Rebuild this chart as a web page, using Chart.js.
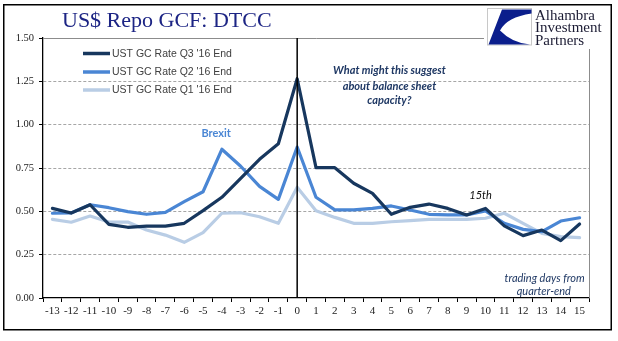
<!DOCTYPE html>
<html>
<head>
<meta charset="utf-8">
<script src="https://cdn.jsdelivr.net/npm/chart.js@4/dist/chart.umd.min.js"></script>
<style>
  html, body { margin: 0; padding: 0; background: #fff; }
  #c { display: block; }
</style>
</head>
<body>
<canvas id="c" width="618" height="341"></canvas>
<script>
// Trading days relative to quarter-end
const days = ['-13','-12','-11','-10','-9','-8','-7','-6','-5','-4','-3','-2','-1','0',
              '1','2','3','4','5','6','7','8','9','10','11','12','13','14','15'];

// UST GC repo rates (%) around each quarter-end
const q3End = [0.517,0.490,0.538,0.425,0.408,0.415,0.415,0.431,0.504,0.581,0.690,0.800,0.890,1.265,
               0.752,0.752,0.662,0.604,0.483,0.523,0.542,0.517,0.479,0.517,0.416,0.360,0.392,0.331,0.427];
const q2End = [0.489,0.491,0.538,0.521,0.498,0.483,0.494,0.556,0.613,0.858,0.760,0.644,0.569,0.871,
               0.581,0.508,0.508,0.517,0.531,0.508,0.483,0.479,0.479,0.502,0.431,0.396,0.383,0.444,0.463];
const q1End = [0.454,0.437,0.473,0.438,0.438,0.392,0.363,0.321,0.377,0.489,0.492,0.469,0.431,0.639,
               0.504,0.465,0.431,0.431,0.440,0.446,0.454,0.454,0.454,0.460,0.489,0.431,0.373,0.354,0.348];

const yTicks = [0, 0.25, 0.5, 0.75, 1.0, 1.25, 1.5];

const seriesNames = ["UST GC Rate Q3 '16 End", "UST GC Rate Q2 '16 End", "UST GC Rate Q1 '16 End"];
const seriesColors = ['#17375e', '#4a86d4', '#b9cde5'];

const zeroIdx = days.indexOf('0');

// Page furniture: frame, plot border, logo, title, legend and notes
const decor = {
  id: 'decor',
  beforeDraw(chart) {
    const ctx = chart.ctx;
    ctx.save();
    ctx.fillStyle = '#fff';
    ctx.fillRect(0, 0, chart.width, chart.height);
    ctx.restore();
  },
  beforeDatasetsDraw(chart) {
    const ctx = chart.ctx, a = chart.chartArea;
    ctx.save();
    ctx.strokeStyle = '#8c8c8c';
    ctx.lineWidth = 1;
    ctx.beginPath();
    ctx.moveTo(a.left, a.top + 0.5);
    ctx.lineTo(a.right + 0.5, a.top + 0.5);
    ctx.lineTo(a.right + 0.5, a.bottom);
    ctx.stroke();
    ctx.restore();
  },
  afterDraw(chart) {
    const ctx = chart.ctx, a = chart.chartArea;
    const xs = chart.scales.x, ys = chart.scales.y;
    const px = d => xs.getPixelForValue(zeroIdx + d);
    const py = v => ys.getPixelForValue(v);
    ctx.save();

    // logo block
    ctx.fillStyle = '#fff';
    ctx.fillRect(484, 6, 125, 43);
    ctx.strokeStyle = '#c8c8c8';
    ctx.lineWidth = 1;
    ctx.strokeRect(487.5, 8.5, 44, 36.5);
    ctx.fillStyle = '#0b1e8c';
    ctx.beginPath();
    ctx.moveTo(502, 9.5);
    ctx.lineTo(531.5, 9.5);
    ctx.lineTo(531.5, 13.5);
    ctx.quadraticCurveTo(507, 17, 500, 30.5);
    ctx.quadraticCurveTo(512, 43, 530, 44.5);
    ctx.lineTo(488.5, 44.5);
    ctx.closePath();
    ctx.fill();
    ctx.fillStyle = '#1b1b33';
    ctx.font = '15px "Liberation Serif"';
    ctx.textAlign = 'left';
    ctx.textBaseline = 'alphabetic';
    ctx.fillText('Alhambra', 535, 19.5);
    ctx.fillText('Investment', 535, 32);
    ctx.fillText('Partners', 535, 44.5);

    // outer frame
    ctx.strokeStyle = '#000';
    ctx.lineWidth = 1.5;
    ctx.strokeRect(3.75, 4.75, 607.5, 325);

    // title
    ctx.fillStyle = '#1c2484';
    ctx.font = '22px "Liberation Serif"';
    ctx.fillText('US$ Repo GCF: DTCC', 62, 27);

    // legend
    ctx.font = '10.5px "Liberation Sans"';
    ctx.textBaseline = 'middle';
    const rows = [53.5, 72, 90];
    seriesNames.forEach((name, i) => {
      ctx.strokeStyle = seriesColors[i];
      ctx.lineWidth = 3.5;
      ctx.beginPath();
      ctx.moveTo(83, rows[i]);
      ctx.lineTo(110, rows[i]);
      ctx.stroke();
      ctx.fillStyle = '#404040';
      ctx.fillText(name, 112, rows[i] + 0.5);
    });

    // notes
    ctx.textAlign = 'center';
    ctx.textBaseline = 'middle';
    ctx.fillStyle = '#1f3864';
    ctx.font = 'italic bold 11px Lato';
    ctx.fillText('What might this suggest', px(4.9), py(1.31));
    ctx.fillText('about balance sheet', px(4.9), py(1.223));
    ctx.fillText('capacity?', px(4.9), py(1.137));

    ctx.fillStyle = '#4a86d4';
    ctx.font = 'bold 11px Lato';
    ctx.fillText('Brexit', px(-4.3), py(0.952));

    ctx.fillStyle = '#111';
    ctx.font = 'italic 11px Lato';
    ctx.fillText('15th', px(9.74), py(0.59));

    ctx.fillStyle = '#1f3864';
    ctx.font = 'italic 11px Lato';
    ctx.fillText('trading days from', px(13.14), py(0.11));
    ctx.fillText('quarter-end', px(13.1), py(0.04));

    ctx.restore();
  }
};

const lineStyle = (color) => ({
  borderColor: color,
  backgroundColor: color,
  borderWidth: 3.2,
  pointRadius: 0,
  tension: 0,
  borderJoinStyle: 'round',
  borderCapStyle: 'round',
  fill: false
});

new Chart(document.getElementById('c'), {
  type: 'line',
  data: {
    labels: days,
    datasets: [
      { label: 'quarter-end', data: [{x: '0', y: 0}, {x: '0', y: 1.5}],
        borderColor: '#000', borderWidth: 1.5, pointRadius: 0, fill: false },
      { label: seriesNames[0], data: q3End, ...lineStyle(seriesColors[0]) },
      { label: seriesNames[1], data: q2End, ...lineStyle(seriesColors[1]) },
      { label: seriesNames[2], data: q1End, ...lineStyle(seriesColors[2]) }
    ]
  },
  options: {
    responsive: false,
    devicePixelRatio: 1,
    animation: false,
    layout: { padding: { left: 0, top: 38, right: 29, bottom: 0 } },
    plugins: { legend: { display: false }, tooltip: { enabled: false }, title: { display: false } },
    scales: {
      x: {
        type: 'category',
        offset: true,
        afterFit: s => { s.height = 43; },
        grid: { offset: true, drawOnChartArea: false, drawTicks: true, tickLength: 4,
                tickColor: '#000', color: '#000', tickWidth: 1 },
        border: { display: true, color: '#000', width: 1.3 },
        ticks: { font: { family: 'Liberation Serif', size: 11 }, color: '#222',
                 padding: 3, maxRotation: 0, autoSkip: false }
      },
      y: {
        min: 0, max: 1.5,
        afterFit: s => { s.width = 43; },
        afterBuildTicks: s => { s.ticks = yTicks.map(v => ({ value: v })); },
        grid: {
          color: c => (c.tick && (c.tick.value === 0 || c.tick.value === 1.5)) ? 'rgba(0,0,0,0)' : '#a6a6a6',
          lineWidth: 1, drawTicks: true, tickLength: 4, tickColor: '#000', tickWidth: 1
        },
        border: { display: true, color: '#000', width: 1.3, dash: [3, 2] },
        ticks: { font: { family: 'Liberation Serif', size: 10.5 }, color: '#222', padding: 5,
                 callback: v => Number(v).toFixed(2) }
      }
    }
  },
  plugins: [decor]
});
</script>
</body>
</html>
